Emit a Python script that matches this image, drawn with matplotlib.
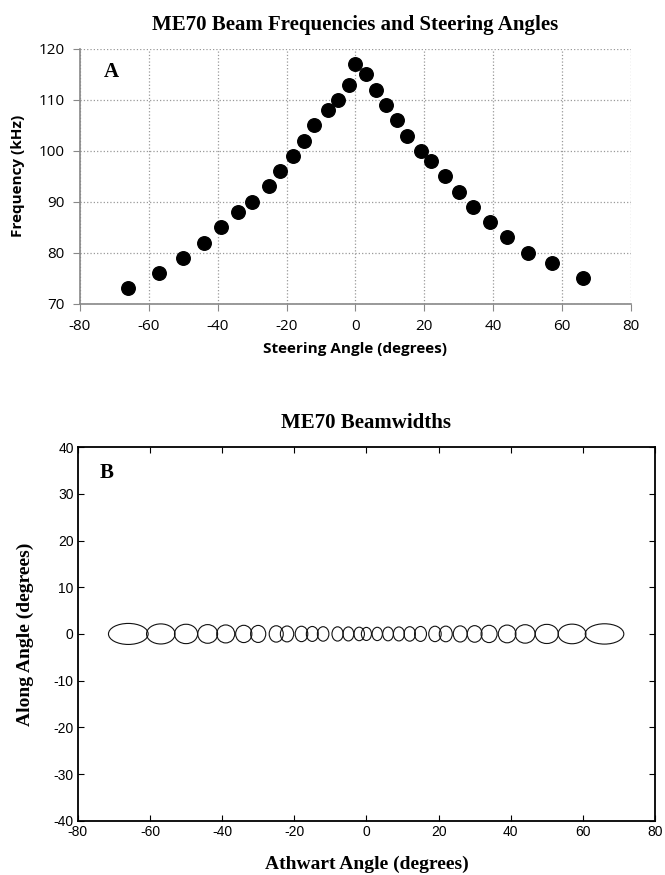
import matplotlib
matplotlib.use("Agg")
import matplotlib.pyplot as plt
from matplotlib.patches import Ellipse

plt.rcParams["axes.unicode_minus"] = False

# -------------------------------
# DATA
# -------------------------------
steer_angles = [-66, -57, -50, -44, -39, -34, -30, -25, -22, -18, -15, -12, -8, -5, -2, 0,
                3, 6, 9, 12, 15, 19, 22, 26, 30, 34, 39, 44, 50, 57, 66]
frequencies = [73, 76, 79, 82, 85, 88, 90, 93, 96, 99, 102, 105, 108, 110, 113, 117,
               115, 112, 109, 106, 103, 100, 98, 95, 92, 89, 86, 83, 80, 78, 75]

# beamwidths in degrees
athwart_widths = [11.0, 7.9, 6.4, 5.5, 5.0, 4.5, 4.2, 3.9, 3.7, 3.5, 3.3, 3.2, 3.1, 3.0, 2.9, 2.8,
                  2.85, 2.95, 3.05, 3.15, 3.3, 3.45, 3.6, 3.85, 4.1, 4.45, 4.9, 5.5, 6.4, 7.7, 10.7]
along_widths = [4.5, 4.3, 4.15, 4.0, 3.85, 3.7, 3.65, 3.5, 3.4, 3.3, 3.2, 3.1, 3.05, 3.0, 2.9, 2.8,
                2.85, 2.95, 3.0, 3.1, 3.2, 3.3, 3.35, 3.45, 3.55, 3.7, 3.8, 3.95, 4.1, 4.2, 4.35]

xticks = [-80, -60, -40, -20, 0, 20, 40, 60, 80]
yticks_a = [70, 80, 90, 100, 110, 120]
yticks_b = [-40, -30, -20, -10, 0, 10, 20, 30, 40]

fig = plt.figure(figsize=(6.65, 8.75), dpi=100)

# -------------------------------
# PANEL A (excel style)
# -------------------------------
ax1 = fig.add_axes([0.120, 0.653, 0.829, 0.291])
ax1.scatter(steer_angles, frequencies, s=95, color="black", zorder=3)
ax1.set_xlim(-80, 80)
ax1.set_ylim(70, 120)
ax1.set_xticks(xticks)
ax1.set_yticks(yticks_a)
ax1.grid(True, linestyle=":", color="#999999", linewidth=0.9)
for side in ["top", "right"]:
    ax1.spines[side].set_visible(False)
for side in ["left", "bottom"]:
    ax1.spines[side].set_color("#888888")
    ax1.spines[side].set_linewidth(1.2)
ax1.tick_params(direction="out", length=5, color="#888888", labelsize=11, pad=6)
for lbl in ax1.get_xticklabels() + ax1.get_yticklabels():
    lbl.set_family("Open Sans")
ax1.set_xlabel("Steering Angle (degrees)", family="Open Sans", fontweight="bold", fontsize=11, labelpad=6)
ax1.set_ylabel("Frequency (kHz)", family="Open Sans", fontweight="bold", fontsize=11, labelpad=10)
ax1.set_title("ME70 Beam Frequencies and Steering Angles", family="Liberation Serif",
              fontweight="bold", fontsize=15, pad=14)
ax1.text(-73, 115.5, "A", family="Liberation Serif", fontweight="bold", fontsize=15,
         ha="left", va="center")

# -------------------------------
# PANEL B (matlab style)
# -------------------------------
ax2 = fig.add_axes([0.117, 0.062, 0.868, 0.427])
for ang, aw, alw in zip(steer_angles, athwart_widths, along_widths):
    ax2.add_patch(Ellipse((ang, 0), width=aw, height=alw, fill=False,
                          edgecolor="#111111", linewidth=0.8))
ax2.set_xlim(-80, 80)
ax2.set_ylim(-40, 40)
ax2.set_xticks(xticks)
ax2.set_yticks(yticks_b)
for side in ax2.spines:
    ax2.spines[side].set_linewidth(1.3)
ax2.tick_params(direction="in", length=4, top=True, right=True, labelsize=10, pad=3)
for lbl in ax2.get_xticklabels() + ax2.get_yticklabels():
    lbl.set_family("Liberation Sans")
ax2.set_xlabel("Athwart Angle (degrees)", family="Liberation Serif", fontweight="bold",
               fontsize=14, labelpad=12)
ax2.set_ylabel("Along Angle (degrees)", family="Liberation Serif", fontweight="bold",
               fontsize=14, labelpad=14)
ax2.set_title("ME70 Beamwidths", family="Liberation Serif", fontweight="bold",
              fontsize=15, pad=14)
ax2.text(-74, 34.5, "B", family="Liberation Serif", fontweight="bold", fontsize=15,
         ha="left", va="center")

fig.savefig("out.png", dpi=100)
